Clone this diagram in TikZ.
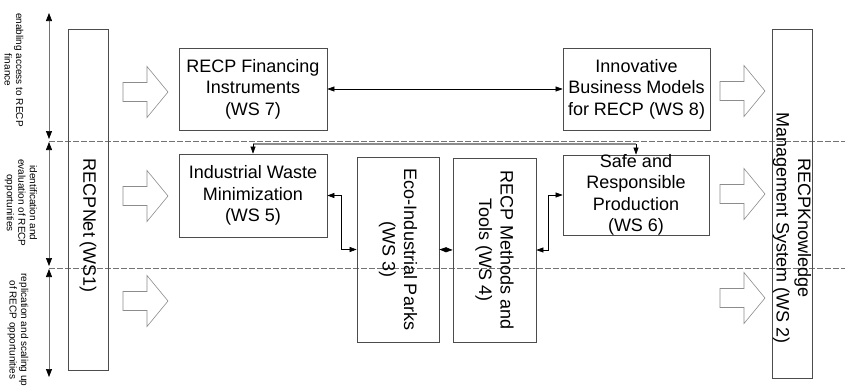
\documentclass[tikz,border=0pt]{standalone}
\usepackage{fontspec}
\setmainfont{Liberation Sans}
\usetikzlibrary{arrows.meta}
\begin{document}
\begin{tikzpicture}[x=1pt,y=-1pt,
  box/.style={draw=black!70, line width=0.7pt, inner sep=0pt, align=center},
  boxtext/.style={inner sep=0pt, align=center, font=\fontsize{18}{21.5}\selectfont},
  lab/.style={inner sep=0pt, align=center, font=\fontsize{10}{11.5}\selectfont},
  conn/.style={draw=black, line width=0.6pt},
  twoway/.style={conn, {Triangle[length=7pt,width=5pt]}-{Triangle[length=7pt,width=5pt]}},
  oneway/.style={conn, -{Triangle[length=7pt,width=5pt]}},
  gline/.style={draw=black!45, line width=1.2pt},
  dline/.style={draw=black!55, line width=0.6pt, dash pattern=on 6pt off 2pt},
  vline/.style={draw=black!55, line width=0.7pt, {Triangle[length=8pt,width=6pt,black]}-{Triangle[length=8pt,width=6pt,black]}},
  barrow/.style={draw=black!45, line width=0.6pt, fill=white},
  blockarrow/.pic={\draw[barrow] (0,-9.5) -- (24,-9.5) -- (24,-25.5) -- (45,0) -- (24,25.5) -- (24,9.5) -- (0,9.5) -- cycle;}
]
\useasboundingbox (0,0) rectangle (845,389);

% dashed separators
\coordinate (d1a) at (49,141); \coordinate (d1b) at (845,141);
\coordinate (d2a) at (49,268); \coordinate (d2b) at (845,268);
\draw[dline] (d1a) -- (d1b);
\draw[dline] (d2a) -- (d2b);

% left vertical arrows
\coordinate (v0) at (49,13); \coordinate (v1) at (49,139);
\coordinate (v2) at (49,142); \coordinate (v3) at (49,266);
\coordinate (v4) at (49,269); \coordinate (v5) at (49,377);
\draw[vline] (v0) -- (v1);
\draw[vline] (v2) -- (v3);
\draw[vline] (v4) -- (v5);

% side labels
\node[lab, rotate=-90] (l1) at (14,70) {enabling access to RECP\\finance};
\node[lab, rotate=-90] (l2) at (21,203) {identification and\\evaluation of RECP\\opportunities};
\node[lab, rotate=-90] (l3) at (18,330) {replication and scaling up\\of RECP opportunities};

% tall boxes
\node[box, minimum width=40pt, minimum height=341pt] (ws1) at (88,199.5) {};
\node[boxtext, rotate=-90] (ws1t) at (88,226) {RECPNet (WS1)};
\node[box, minimum width=40pt, minimum height=349pt] (ws2) at (792,203.5) {};
\node[boxtext, rotate=-90] (ws2t) at (792,228) {RECPKnowledge\\Management System (WS 2)};

% block arrows
\pic at (123,92) {blockarrow};
\pic at (123,196) {blockarrow};
\pic at (123,301) {blockarrow};
\pic at (720,91) {blockarrow};
\pic at (720,194) {blockarrow};
\pic at (720,298) {blockarrow};

% work stream boxes
\node[box, minimum width=148pt, minimum height=82pt] (ws7) at (253,89) {};
\node[boxtext] (ws7t) at (ws7) {RECP Financing\\Instruments\\(WS 7)};
\node[box, minimum width=147pt, minimum height=82pt] (ws8) at (636.5,89) {};
\node[boxtext] (ws8t) at (ws8) {Innovative\\Business Models\\for RECP (WS 8)};
\node[box, minimum width=148pt, minimum height=83pt] (ws5) at (253,195.5) {};
\node[boxtext] (ws5t) at (ws5) {Industrial Waste\\Minimization\\(WS 5)};
\node[box, minimum width=146pt, minimum height=80pt] (ws6) at (636,195) {};
\node[boxtext] (ws6t) at (ws6) {Safe and\\Responsible\\Production\\(WS 6)};
\node[box, minimum width=82pt, minimum height=185pt] (ws3) at (398,249.5) {};
\node[boxtext, rotate=-90] (ws3t) at (ws3) {Eco-Industrial Parks\\(WS 3)};
\node[box, minimum width=83pt, minimum height=184pt] (ws4) at (494.5,250) {};
\node[boxtext, rotate=-90] (ws4t) at (ws4) {RECP Methods and\\Tools (WS 4)};

% connectors
\draw[twoway] (ws7.east) -- (ws8.west);
\coordinate (h1) at (253,144); \coordinate (h2) at (636,144);
\draw[gline] (h1) -- (h2);
\draw[oneway] (h1) -- (ws5.north);
\draw[oneway] (h2) -- (ws6.north);
\draw[twoway] (ws5.east) -- ++(14,0) |- (ws3.west);
\draw[twoway] (ws3.east) -- (ws4.west);
\draw[twoway] (ws4.east) -- ++(12,0) |- (ws6.west);
\end{tikzpicture}
\end{document}
